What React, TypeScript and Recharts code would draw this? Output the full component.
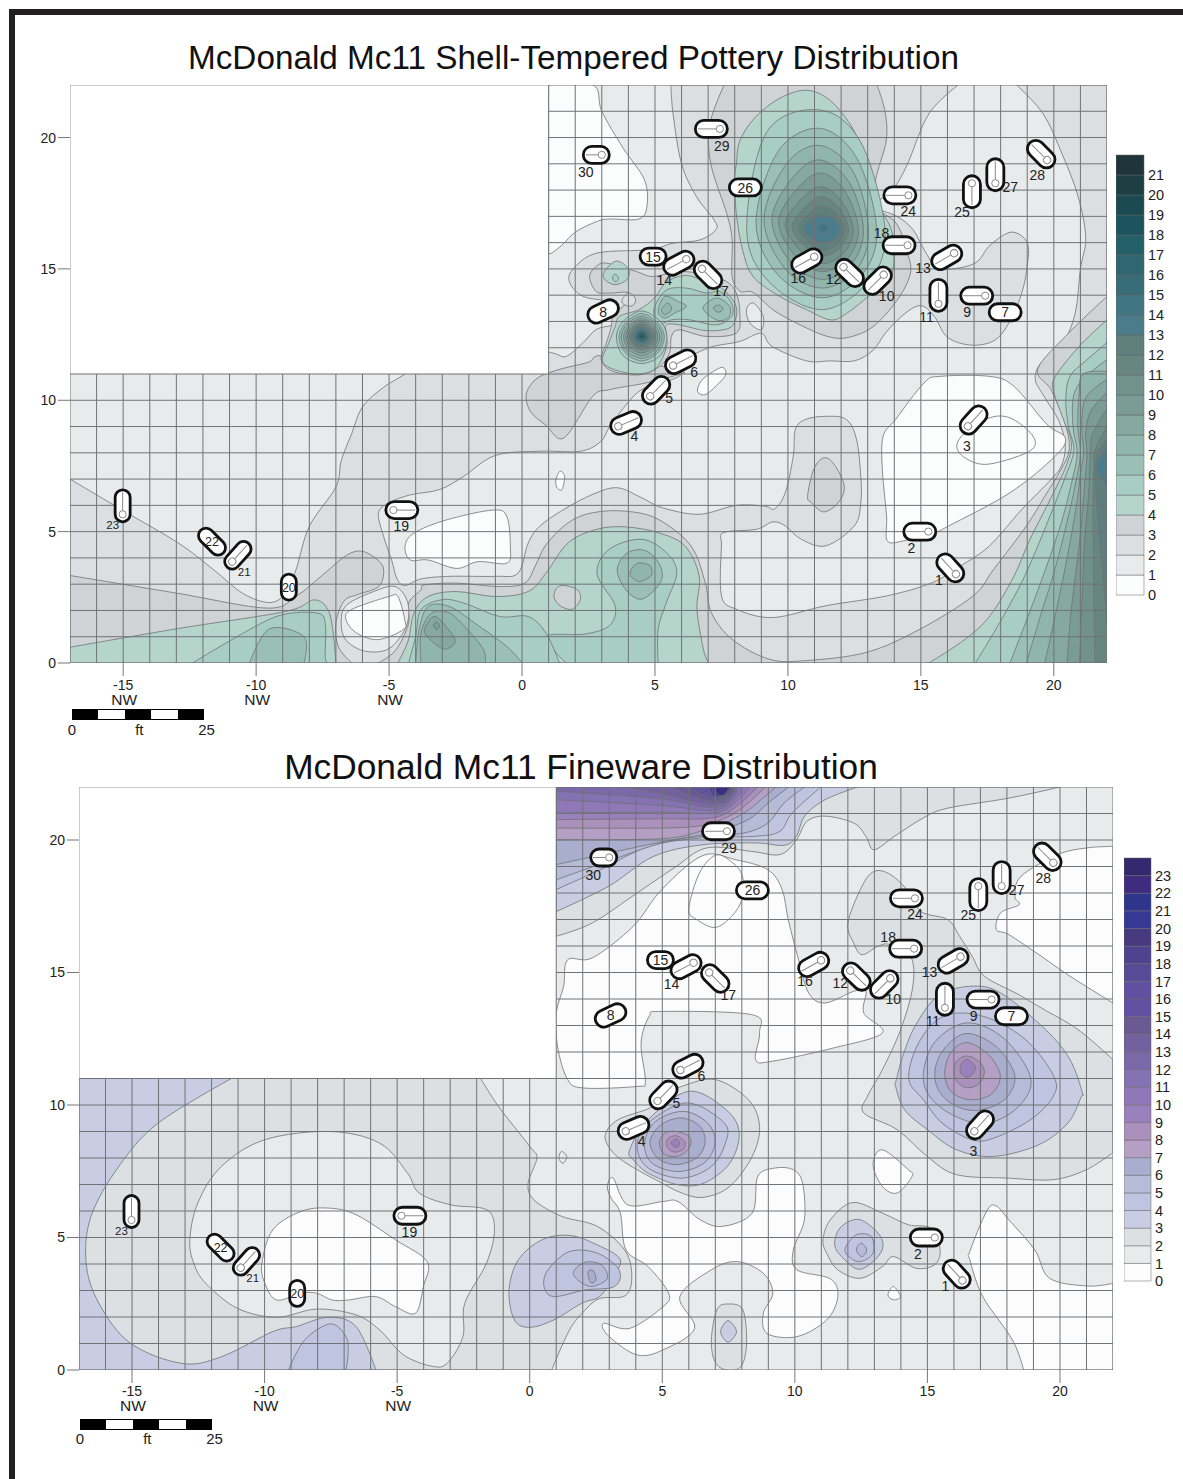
import React from 'react';
import { BarChart, Bar, Scatter, ScatterChart, XAxis, YAxis } from 'recharts';

type Pt = number[];
type Contour = [number, Pt[]];

const FONT = '"Liberation Sans", Arial, sans-serif';

const xTicks = [-15, -10, -5, 0, 5, 10, 15, 20];
const yTicks = [0, 5, 10, 15, 20];
const gridColumns = [-17, -16, -15, -14, -13, -12, -11, -10, -9, -8, -7, -6, -5, -4, -3, -2, -1, 0, 1, 2, 3, 4, 5, 6, 7, 8, 9, 10, 11, 12, 13, 14, 15, 16, 17, 18, 19, 20, 21, 22];
const gridRows = [0, 1, 2, 3, 4, 5, 6, 7, 8, 9, 10, 11, 12, 13, 14, 15, 16, 17, 18, 19, 20, 21, 22];

// colour of the band that starts at each level, lowest first
const shellColors = ['#fbfcfc', '#e8ebec', '#dcdfe2', '#cfd3d6', '#b5d5cb', '#a8cdc2', '#9ac0b6', '#90b5ab', '#85a8a0', '#7b9c95', '#71918b', '#678680', '#5f7f7c', '#4a7c8c', '#427584', '#386c78', '#2f6670', '#24606a', '#1c535e', '#1b4a52', '#1d3f44', '#1f3539'];
const finewareColors = ['#fcfcfc', '#e8ebec', '#dde0e2', '#c9cde4', '#bfc4e0', '#b6bbd8', '#a9aece', '#b59fc5', '#ab90bc', '#9a80bd', '#9078b8', '#8572b2', '#7b68a8', '#72609f', '#6b5a92', '#6250a0', '#5f51a0', '#574b98', '#4f4390', '#483a80', '#363a95', '#2e358a', '#3f2c80', '#34296f'];

// excavation units: id, point, direction of the tag in degrees
const unitLabels = ['1', '2', '3', '4', '5', '6', '7', '8', '9', '10', '11', '12', '13', '14', '15', '16', '17', '18', '19', '20', '21', '22', '23', '24', '25', '26', '27', '28', '29', '30'];
const unitX = [16.32, 15.28, 16.77, 3.62, 4.82, 5.68, 18.17, 3.05, 17.42, 13.6, 15.66, 12.09, 16.25, 6.18, 4.93, 10.99, 6.77, 14.5, -4.84, -8.77, -10.9, -11.66, -15.02, 14.53, 16.92, 8.4, 17.8, 19.75, 7.44, 3.0];
const unitY = [3.38, 5.0, 9.01, 9.01, 10.15, 11.32, 13.35, 13.38, 13.98, 14.78, 13.67, 15.07, 15.6, 15.37, 15.47, 15.46, 15.0, 15.9, 5.82, 2.89, 3.86, 4.62, 5.66, 17.8, 18.26, 18.1, 18.26, 19.14, 20.33, 19.34];
const unitAngle = [-132, 180, -48, -23, -46, -27, 0, -25, 180, 135, -90, 44, 150, 152, 0, 151, 45, 180, 0, 90, -48, 45, -90, 180, 90, 0, -90, -135, 180, 180];
const unitLabelDx = [-17, -17, -1, 16, 19, 21, 0, 0, -18, 3, -12, -10, -31, -22, 0, -16, 19, -26, 8, 0, 12, 0, -10, 0, -10, 0, 15, -10, 2, -16];
const unitLabelDy = [6, 16, 20, 10, 2, 6, 0, 0, 16, 21, 13, 12, 15, 21, 0, 21, 22, -12, 16, 0, 10, 0, 11, 16, 29, 0, 4, 15, 17, 17];
const centredUnits = ['7', '8', '15', '20', '22', '26'];
const smallUnits = ['20', '21', '22', '23'];

const shellContours: Contour[] = [
  [0, [[1, 22], [1, 22], [2.67, 22], [3, 21], [3.8, 19.6], [4.6, 18.4], [4.7, 17.4], [4.4, 16.9], [3.3, 16.9], [2.8, 16.8], [2, 16.4], [1.5, 15.9], [1.1, 15.6], [1, 15.6], [1, 15.6]]],
  [2, [[-17, 7], [-17, 7], [-15, 5.8], [-12.9, 4.55], [-11.6, 3.55], [-10.5, 2.65], [-9.5, 2.3], [-8.9, 2.65], [-8.5, 3.55], [-8, 5.2], [-7, 6.7], [-6.8, 7.7], [-6.4, 8.75], [-6, 9.75], [-5.2, 10.5], [-4.4, 11], [-3, 12], [0, 12], [1.16, 11.8], [1.66, 11.67], [2.3, 12.2], [2.8, 12.7], [3.5, 12.9], [3.67, 13.3], [3.17, 13.76], [2.3, 13.95], [1.8, 14.46], [1.9, 14.97], [2.8, 15.6], [4.8, 15.73], [5.68, 15.98], [6.68, 16.1], [7.3, 16.5], [7.2, 16.9], [6.56, 17.75], [6, 19], [5.68, 20.9], [5.6, 22], [5.6, 22], [16.4, 22], [16.4, 22], [15.3, 20.9], [14.5, 19], [14, 18.1], [13.3, 17.4], [14.1, 17], [14.7, 16.5], [15.2, 15.6], [15.7, 15], [17, 15.2], [17.6, 15.9], [18.4, 16.4], [19, 16], [19, 15.1], [18.8, 14.1], [18.4, 13.1], [17.8, 12.3], [16.9, 12.1], [16, 12.4], [15.5, 13.2], [15, 13.6], [14.4, 13.3], [13.7, 12.6], [13.2, 11.9], [12.5, 11.5], [11.6, 11.5], [10.7, 11.5], [9.4, 12.05], [9, 12.55], [8.19, 12.24], [7.19, 12.05], [6.56, 11.8], [5.93, 11.55], [6, 11], [5.3, 10.66], [4.35, 10.3], [3.35, 9.07], [2.97, 8.44], [2.2, 8.06], [0.66, 8.06], [-1, 7.9], [-2.2, 7.1], [-3.1, 6.6], [-4.2, 6.4], [-5, 6.1], [-5.4, 5.7], [-5.2, 4.8], [-4.9, 3.9], [-4.7, 3.2], [-4.4, 2.95], [-3.8, 3.2], [-2.7, 3.3], [-1, 3.3], [-0.15, 3.42], [0.23, 4.56], [0.66, 5.2], [1.58, 5.85], [2.66, 6.42], [3.58, 6.67], [4.5, 6.29], [5.28, 5.91], [6.66, 5.66], [8.05, 6], [9.12, 5.97], [9.5, 5.87], [9.9, 6.48], [10.2, 7.87], [10.28, 8.89], [10.66, 9.27], [11.43, 9.39], [12.2, 9.27], [12.58, 8.51], [12.74, 7.11], [12.74, 6.1], [12.5, 5.22], [11.43, 4.46], [10.5, 4.71], [9.9, 5.22], [9.43, 5.37], [8.82, 5.09], [7.58, 4.96], [7.5, 4.46], [7.5, 2.56], [8.05, 2.05], [9.43, 1.73], [11.43, 2.18], [13.74, 2.56], [15.43, 3.06], [16.5, 3.7], [17.58, 4.46], [18.8, 5.85], [19.9, 6.99], [20.28, 7.5], [20.43, 8.25], [20.2, 9.2], [19.6, 10.2], [19.3, 10.8], [19.5, 11.4], [20.3, 12.1], [20.8, 13.3], [21, 15], [21.2, 16.2], [20.9, 17.8], [20.3, 19.4], [19.6, 20.9], [18.6, 22], [18.6, 22], [22, 22], [22, 22], [22, 0], [22, 0], [-17, 0], [-17, 0]]],
  [0, [[-4.4, 4.43], [-4.07, 4.94], [-2.86, 5.44], [-1.1, 5.82], [-0.57, 5.57], [-0.44, 4.43], [-0.57, 3.8], [-1.65, 3.86], [-2.46, 3.6], [-3.53, 3.92], [-4.2, 3.92]]],
  [0, [[13.58, 8.63], [14.05, 9.27], [15.12, 10.66], [15.74, 10.91], [17.58, 10.91], [18.5, 10.53], [19.74, 9.08], [20.43, 8.57], [20.05, 7.87], [18.35, 6.48], [16.05, 5.22], [15.5, 4.96], [14.35, 4.65], [13.74, 4.65], [13.71, 5.6], [13.55, 7.37]]],
  [0, [[16.35, 8.25], [16.66, 8.76], [17.58, 9.33], [18.35, 9.33], [19.12, 8.76], [19.28, 8.25], [18.66, 7.87], [17.43, 7.56], [16.66, 7.81]]],
  [0, [[6.6, 10.35], [6.75, 10.75], [7.2, 11.1], [7.55, 11.25], [7.65, 10.95], [7.2, 10.45], [6.85, 10.2]]],
  [0, [[1.28, 7], [1.43, 7.3], [1.6, 7.1], [1.5, 6.6], [1.3, 6.7]]],
  // level 3 pieces
  [3, [[-17, 3.33], [-17, 3.33], [-13, 2.66], [-9.6, 2.09], [-8.5, 2.54], [-7.5, 3.35], [-6.6, 4.1], [-6, 4.25], [-5.4, 3.9], [-5.2, 3.5], [-5.4, 2.9], [-6.2, 2.6], [-6.7, 2.35], [-7, 1.5], [-6.9, 0.6], [-6.4, 0], [-6.4, 0], [-17, 0], [-17, 0]]],
  [3, [[-5.41, 0], [-5.41, 0], [-4.74, 0.5], [-4.27, 1.5], [-4.27, 2.28], [-3.8, 2.78], [-3.67, 2.97], [-2.46, 3.04], [-0.84, 2.91], [0.1, 3.04], [0.5, 3.7], [0.9, 4.5], [1.74, 5.34], [2.66, 5.72], [3.89, 5.78], [5.12, 5.47], [6.35, 4.46], [6.89, 3.06], [7.12, 1.92], [7.89, 0.91], [9.28, 0.15], [10.66, 0.09], [12.97, 0.41], [14.97, 1.29], [16.97, 2.56], [17.74, 3.57], [18.97, 5.22], [19.74, 6.48], [20.2, 7.24], [20.58, 8.13], [20.4, 9.2], [19.9, 10.4], [19.4, 11.2], [20.6, 12.6], [22, 13.95], [22, 13.95], [22, 0], [22, 0]]],
  [3, [[0.16, 10], [0.37, 9.5], [0.9, 9.05], [1.58, 8.57], [2.66, 10.15], [3.28, 10.4], [4.66, 10.66], [5.97, 11], [6, 11.1], [5, 11.35], [3, 11.7], [2.5, 11.45], [1.5, 11.2], [0.66, 10.9], [0.23, 10.44]]],
  [3, [[2.54, 14.71], [2.79, 15.09], [3.17, 15.22], [4.3, 14.9], [4.93, 14.71], [5.93, 14.9], [6.93, 14.78], [7.69, 14.52], [8.06, 14.08], [8.19, 13.32], [8.06, 12.56], [6.93, 12.43], [5.93, 12.68], [5.62, 12.43], [5.55, 11.8], [5.18, 11.29], [4.43, 10.97], [3.42, 11.1], [2.98, 11.54], [3.17, 12.18], [3.36, 12.81], [3.42, 13.32], [3.8, 13.57], [4.05, 14.08], [3.3, 14.08], [2.79, 14.14]]],
  [3, [[7.6, 22], [7.6, 22], [7.06, 20.5], [7.1, 19], [7.7, 17.1], [7.9, 16.1], [7.9, 14.7], [8.2, 14.15], [8.7, 14.1], [9.5, 13.4], [10.7, 12.75], [11.6, 12.4], [12.3, 12.4], [13.2, 12.8], [14.1, 13.8], [14.6, 14.8], [14.5, 15.6], [14.1, 16.7], [13.3, 17.4], [13.3, 18.4], [13.7, 19.9], [13.65, 21], [13.35, 22], [13.35, 22]]],
  [3, [[10.74, 6.35], [10.97, 7.37], [11.35, 7.81], [11.74, 7.56], [12.12, 6.73], [11.89, 6.1], [11.35, 5.75], [10.89, 6.1]]],
  // lighter pockets on top of level 2 and 3
  [2, [[3.77, 13.84], [4.02, 14.09], [4.27, 13.84], [4.14, 13.59], [3.83, 13.65]]],
  [1, [[8.44, 13.45], [8.7, 13.7], [9.07, 13.2], [9, 12.68], [8.57, 12.94]]],
  [1, [[-6.8, 1.5], [-6.6, 2.2], [-5.5, 2.75], [-4.75, 2.9], [-4.3, 2.3], [-4.35, 1.4], [-5, 0.55], [-5.9, 0.45], [-6.6, 0.85]]],
  [0, [[-6.62, 1.65], [-6.42, 2.03], [-5.01, 2.53], [-4.67, 2.53], [-4.41, 1.65], [-4.47, 1.27], [-5.41, 0.89], [-6.22, 1.14]]],
  // bottom left wedge and hump
  [4, [[-17, 0.6], [-17, 0.6], [-13, 1.3], [-8.9, 1.96], [-7.83, 2.4], [-7.3, 2.03], [-7.1, 1.14], [-7, 0], [-7, 0], [-17, 0], [-17, 0]]],
  [5, [[-12.4, 0], [-12.4, 0], [-10.25, 1.27], [-9, 1.84], [-7.7, 1.9], [-7.4, 1.5], [-7.4, 0.25], [-7.3, 0], [-7.3, 0]]],
  [6, [[-10.25, 0], [-10.25, 0], [-9.5, 1.3], [-8.2, 1], [-8.2, 0], [-8.2, 0]]],
  [4, [[-4.67, 0], [-4.67, 0], [-4.27, 0.88], [-4.07, 1.9], [-3.53, 2.53], [-2.46, 2.72], [-1, 2.53], [0.23, 2.72], [0.9, 3.42], [1.74, 4.58], [2.82, 5.09], [3.89, 5.18], [5.12, 4.96], [6.12, 4.46], [6.66, 3.32], [6.58, 2.05], [6.82, 0.53], [7.02, 0], [7.02, 0]]],
  [3, [[1.2, 2.56], [1.43, 2.94], [2.05, 2.81], [2.2, 2.43], [1.89, 2.05], [1.43, 2.18]]],
  [5, [[3.28, 4.33], [4.5, 4.71], [5.43, 4.2], [5.82, 3.44], [5.43, 2.3], [5.12, 1.29], [5.12, 0], [5.12, 0], [1.66, 0], [1.66, 0], [0.9, 1], [2.35, 1.1], [3.28, 1.42], [3.5, 2.18], [2.82, 3.4]]],
  [6, [[3.58, 3.57], [3.97, 4.2], [4.66, 4.27], [5.2, 3.7], [5.2, 3.06], [4.5, 2.43], [3.89, 2.81]]],
  [7, [[4.08, 3.5], [4.35, 3.8], [4.82, 3.7], [4.85, 3.32], [4.43, 3.1], [4.12, 3.27]]],
  [5, [[-4.27, 0], [-4.27, 0], [-4, 1.01], [-3.8, 2.03], [-3, 2.41], [-2.19, 2.28], [-0.84, 1.77], [0.23, 1.77], [0.9, 1.14], [1.41, 0], [1.41, 0]]],
  [6, [[-4, 0], [-4, 0], [-3.87, 1.27], [-3.53, 2.15], [-2.73, 2.15], [-1.78, 1.52], [-0.57, 0.63], [0, 0], [0, 0]]],
  [7, [[-3.8, 0], [-3.8, 0], [-3.8, 1.14], [-3.4, 1.9], [-2.73, 1.9], [-2.05, 1.27], [-1.45, 0.51], [-1.38, 0], [-1.38, 0]]],
  [8, [[-3.67, 1.27], [-3.27, 1.77], [-2.66, 1.14], [-2.53, 0.76], [-2.93, 0.53], [-3.46, 0.89]]],
  [9, [[-3.33, 1.46], [-3.2, 1.56], [-3.1, 1.39], [-3.23, 1.27]]],
  // right edge fan
  [4, [[15.3, 0], [15.3, 0], [16.66, 0.9], [17.6, 1.8], [18.5, 3.3], [19.1, 4.7], [20, 6.5], [20.5, 7.6], [20.66, 8.4], [20.35, 9.3], [20, 10.3], [20.05, 10.9], [21, 12.1], [22, 13.06], [22, 13.06], [22, 0], [22, 0]]],
  [5, [[17.05, 0], [17.05, 0], [18, 1.6], [18.9, 3.3], [19.7, 5.2], [20.4, 7], [20.75, 8.1], [20.55, 9], [20.45, 10], [20.6, 10.9], [21.2, 11.5], [22, 12.2], [22, 12.2], [22, 0], [22, 0]]],
  [6, [[18.35, 0], [18.35, 0], [19, 1.7], [19.7, 3.6], [20.3, 5.4], [20.7, 7], [20.88, 8], [20.72, 9], [20.75, 10.2], [21.2, 10.9], [22, 11.55], [22, 11.55], [22, 0], [22, 0]]],
  [7, [[18.97, 0], [18.97, 0], [19.5, 1.8], [20.05, 3.6], [20.55, 5.6], [20.85, 7], [21, 8], [20.9, 9], [20.95, 10.2], [21.1, 11], [22, 11.1], [22, 11.1], [22, 0], [22, 0]]],
  [8, [[19.66, 0], [19.66, 0], [20.05, 1.8], [20.5, 4], [20.85, 6], [21, 7.2], [21.12, 8], [21.05, 9], [21.2, 10.1], [22, 10.8], [22, 10.8], [22, 0], [22, 0]]],
  [9, [[20.5, 0], [20.5, 0], [20.65, 2], [20.9, 4], [21.1, 6], [21.2, 7.3], [21.25, 8], [21.2, 8.8], [21.4, 9.6], [22, 10.3], [22, 10.3], [22, 0], [22, 0]]],
  [10, [[20.97, 0], [20.97, 0], [21.05, 2], [21.15, 4.5], [21.3, 6.3], [21.35, 7.4], [21.38, 8], [21.45, 8.7], [22, 9.7], [22, 9.7], [22, 0], [22, 0]]],
  [11, [[21.55, 0], [21.55, 0], [21.5, 3], [21.48, 6], [21.5, 7.4], [21.55, 8.1], [22, 9], [22, 9], [22, 0], [22, 0]]],
  [12, [[22, 1.5], [22, 1.5], [21.7, 5], [21.55, 7.2], [21.65, 8], [22, 8.5], [22, 8.5]]],
  [13, [[22, 6.7], [22, 6.7], [21.6, 7.45], [22, 8.15], [22, 8.15]]],
  // big hump around 11.3, 16.5
  [4, [[8.06, 19], [8.2, 19.9], [8.8, 20.8], [9.7, 21.5], [10.7, 21.8], [11.6, 21.4], [12.46, 20.3], [12.97, 18.9], [13.2, 17.75], [13.85, 16.6], [14, 15.6], [13.85, 14.7], [13.2, 14.1], [12.2, 13.3], [11.6, 13.06], [10.7, 13.45], [9.7, 13.95], [8.7, 14.7], [8.3, 15.7], [8.06, 17.1], [8, 18.4]]],
  [5, [[11.2, 21.05], [12.75, 19.8], [13.65, 16.5], [13.1, 14.6], [11.3, 13.45], [9.3, 14.5], [8.45, 16.5], [9.2, 20.2]]],
  [6, [[11.2, 20.35], [12.6, 19.2], [13.34, 16.5], [12.8, 14.8], [11.3, 13.9], [9.6, 14.8], [8.8, 16.8], [9.65, 19.5]]],
  [7, [[11.2, 19.7], [12.45, 18.7], [13.03, 16.5], [12.6, 15], [11.3, 14.27], [9.9, 15], [9.1, 16.9], [9.95, 19]]],
  [8, [[11.2, 19.15], [12.3, 18.3], [12.84, 16.5], [12.4, 15.2], [11.3, 14.6], [10.1, 15.25], [9.4, 16.9], [10.2, 18.5]]],
  [9, [[11.25, 18.65], [12.15, 17.95], [12.65, 16.5], [12.25, 15.4], [11.3, 14.9], [10.3, 15.45], [9.65, 16.8], [10.35, 18.05]]],
  [10, [[11.25, 18.13], [12, 17.6], [12.46, 16.5], [12.1, 15.6], [11.3, 15.2], [10.5, 15.65], [9.9, 16.7], [10.5, 17.65]]],
  [11, [[11.25, 17.75], [11.9, 17.35], [12.28, 16.5], [11.95, 15.8], [11.3, 15.5], [10.65, 15.85], [10.15, 16.6], [10.65, 17.35]]],
  [12, [[11.3, 17.4], [11.8, 17.1], [12.15, 16.5], [11.85, 15.95], [11.3, 15.7], [10.8, 16], [10.4, 16.55], [10.8, 17.1]]],
  [13, [[11.3, 17.05], [11.75, 16.9], [11.96, 16.5], [11.75, 16.15], [11.3, 16], [10.95, 16.15], [10.6, 16.5], [10.9, 16.9]]],
  [14, [[11.33, 16.72], [11.5, 16.55], [11.33, 16.38], [11.16, 16.55]]],
  // centre cluster
  [4, [[3.11, 14.6], [3.1, 14.9], [3.55, 15.3], [4, 15], [3.95, 14.6], [3.5, 14.4]]],
  [5, [[3.4, 14.65], [3.5, 14.8], [3.63, 14.65], [3.53, 14.5]]],
  [4, [[4.99, 13.9], [5.43, 14.5], [6.18, 14.75], [6.93, 14.5], [7.5, 14.27], [8, 13.7], [8.06, 13.2], [7.8, 12.75], [6.93, 12.65], [5.93, 12.87], [5.43, 12.87], [5.43, 12.5], [5.43, 12], [5.05, 11.24], [4.4, 11], [3.51, 11.15], [3.02, 11.5], [3.25, 12.15], [3.5, 12.8], [3.67, 13.2], [4.4, 13.45]]],
  [5, [[4.99, 13.57], [5.43, 14.2], [6.18, 14.27], [6.93, 14.08], [7.44, 14.14], [7.88, 13.7], [7.88, 13.19], [7.31, 12.87], [6.31, 13.06], [5.62, 13.06], [5.18, 12.87], [4.99, 13.19]]],
  [6, [[5.12, 13.38], [5.37, 13.95], [5.87, 13.76], [6.18, 13.57], [5.74, 13.32], [5.37, 13.13]]],
  [6, [[6.81, 13.51], [7.31, 13.89], [7.81, 13.57], [7.75, 13.13], [7.31, 13.06]]],
  [7, [[5.24, 13.45], [5.49, 13.7], [5.62, 13.45], [5.37, 13.26]]],
  [7, [[7.19, 13.51], [7.41, 13.63], [7.56, 13.47], [7.38, 13.35]]],
  [5, [[4.5, 13.4], [5.2, 13], [5.45, 12.4], [5.2, 11.7], [4.5, 11.4], [3.8, 11.7], [3.55, 12.4], [3.8, 13]]],
  [6, [[4.5, 13.3], [5.1, 12.95], [5.35, 12.4], [5.1, 11.8], [4.5, 11.5], [3.9, 11.8], [3.65, 12.4], [3.9, 12.95]]],
  [7, [[4.5, 13.2], [5.05, 12.9], [5.27, 12.4], [5.05, 11.85], [4.5, 11.6], [3.95, 11.85], [3.73, 12.4], [3.95, 12.9]]],
  [8, [[4.5, 13.12], [4.98, 12.85], [5.18, 12.42], [4.98, 11.93], [4.5, 11.7], [4.02, 11.93], [3.82, 12.42], [4.02, 12.85]]],
  [9, [[4.5, 13.05], [4.93, 12.8], [5.1, 12.42], [4.93, 12], [4.5, 11.8], [4.07, 12], [3.9, 12.42], [4.07, 12.8]]],
  [10, [[4.5, 12.97], [4.88, 12.75], [5.02, 12.42], [4.88, 12.07], [4.5, 11.9], [4.12, 12.07], [3.98, 12.42], [4.12, 12.75]]],
  [11, [[4.5, 12.9], [4.82, 12.72], [4.95, 12.42], [4.82, 12.13], [4.5, 11.98], [4.18, 12.13], [4.05, 12.42], [4.18, 12.72]]],
  [12, [[4.5, 12.83], [4.77, 12.68], [4.88, 12.43], [4.77, 12.18], [4.5, 12.05], [4.23, 12.18], [4.12, 12.43], [4.23, 12.68]]],
  [13, [[4.5, 12.76], [4.72, 12.64], [4.82, 12.43], [4.72, 12.22], [4.5, 12.12], [4.28, 12.22], [4.18, 12.43], [4.28, 12.64]]],
  [15, [[4.5, 12.68], [4.67, 12.58], [4.75, 12.43], [4.67, 12.28], [4.5, 12.2], [4.33, 12.28], [4.25, 12.43], [4.33, 12.58]]],
  [17, [[4.5, 12.6], [4.62, 12.53], [4.67, 12.43], [4.62, 12.33], [4.5, 12.28], [4.38, 12.33], [4.33, 12.43], [4.38, 12.53]]],
  [19, [[4.5, 12.52], [4.57, 12.43], [4.5, 12.35], [4.43, 12.43]]],
];

const finewareContours: Contour[] = [
  // white pockets on the level 1 base
  [0, [[1.43, 15.48], [2.36, 15.55], [3.9, 16.74], [4.98, 18.13], [6.52, 19.41], [7.75, 19.26], [8.98, 18.88], [9.52, 18.13], [9.75, 17], [10.14, 15.48], [10.52, 14.23], [11.14, 13.85], [12.22, 14.29], [12.68, 14.29], [12.6, 13.47], [13.3, 12.72], [11.45, 12.15], [9.14, 11.65], [8.52, 11.71], [8.67, 12.72], [8.37, 13.41], [4.98, 13.53], [4.51, 13.35], [4.2, 12.34], [4.36, 10.89], [4.05, 10.7], [2.05, 10.64], [1.43, 10.96], [1.05, 12.21], [1, 13.47], [1.28, 14.48]]],
  [0, [[3.15, 7.24], [3.7, 6.23], [5.03, 6.36], [5.59, 6.36], [6.43, 5.67], [7.27, 5.42], [8.39, 5.92], [8.6, 7.3], [9.24, 7.62], [9.94, 7.56], [10.29, 7.05], [10.36, 5.67], [9.94, 4.53], [10.08, 3.78], [11.34, 3.44], [11.62, 2.77], [11.2, 1.89], [10.08, 1.26], [8.95, 1.38], [8.81, 2.14], [9.17, 2.9], [8.81, 3.65], [7.83, 4.09], [6.85, 3.78], [5.66, 2.77], [6.22, 1.57], [5.03, 0.76], [4.05, 0.57], [3, 1.26], [2.78, 1.76], [3.77, 1.57], [5.03, 2.39], [5.24, 2.9], [4.47, 3.9], [3.63, 4.53], [3.42, 5.92], [3.07, 6.49], [2.93, 6.93]]],
  [0, [[12.95, 7.75], [13.3, 8.31], [14.28, 7.56], [14.42, 7.31], [13.86, 6.68], [13.3, 6.93]]],
  [0, [[13.51, 2.83], [13.72, 3.15], [13.98, 2.77], [13.72, 2.65]]],
  [0, [[16.6, 4.47], [17.23, 5.98], [17.58, 6.2], [18.07, 5.67], [19.05, 4.53], [19.61, 3.46], [21.02, 3.17], [22, 3.27], [22, 3.27], [22, 0], [22, 0], [18.63, 0], [18.63, 0], [18.21, 1.13], [17.09, 2.77], [16.6, 4.16]]],
  [0, [[22, 19.76], [22, 19.76], [21, 19.7], [19.92, 19.45], [18.53, 18.63], [18.3, 17.87], [18.46, 17.56], [17.76, 17.25], [17.6, 16.62], [18.07, 16.43], [19.3, 15.61], [20.38, 14.86], [22, 13.85], [22, 13.85]]],
  // level 2
  [2, [[-17, 11], [-17, 11], [-1.85, 11], [-1.85, 11], [-1.18, 9.95], [0, 8.44], [0.27, 8], [-0.06, 7.05], [0.16, 6.42], [1.2, 5.8], [2.55, 5.42], [3.6, 4.5], [3.85, 3.5], [3.6, 2.8], [2.64, 2.7], [2.1, 2.27], [1.5, 1.51], [0.83, 0], [0.83, 0], [-17, 0], [-17, 0]]],
  [1, [[-12.82, 4.91], [-12.52, 6.3], [-11.63, 7.68], [-9.99, 8.69], [-7.52, 9], [-5.66, 8.56], [-4.61, 7.43], [-4.16, 6.67], [-2.97, 6.23], [-1.63, 6.05], [-1.33, 5.29], [-1.63, 4.03], [-2.45, 2.52], [-2.52, 1.26], [-3.12, 0.25], [-3.72, 0.15], [-4.76, 0.57], [-5.66, 1.51], [-6.55, 2.08], [-8.04, 2.3], [-9.54, 1.99], [-11.03, 2.33], [-12.22, 3.27], [-12.67, 4.03]]],
  [0, [[-10.1, 4.03], [-9.69, 5.29], [-8.64, 5.98], [-7.6, 6.11], [-6.55, 5.86], [-5.06, 4.91], [-3.87, 4.09], [-4.01, 3.15], [-4.31, 2.14], [-5.06, 2.39], [-5.81, 2.77], [-6.85, 2.64], [-7.45, 2.64], [-8.04, 2.9], [-8.64, 2.9], [-9.54, 2.64], [-9.99, 3.27]]],
  [1, [[1.1, 8], [1.2, 8.25], [1.4, 8.05], [1.25, 7.8]]],
  [2, [[1, 16.37], [1, 16.37], [2.36, 16.87], [4.05, 18], [5.44, 18.94], [6.67, 19.7], [8.37, 19.57], [9.44, 19.45], [10.06, 20], [10.45, 20.7], [11.14, 20.9], [12.22, 20.64], [12.68, 20.14], [12.99, 19.63], [13.76, 20.14], [14.84, 20.83], [15.76, 21.2], [18.07, 21.58], [20, 22], [20, 22], [1, 22], [1, 22]]],
  [0, [[6.0, 17.4], [6.4, 18.75], [7.02, 19.43], [7.64, 19.15], [8.02, 18.65], [8.02, 17.8], [7.64, 17.15], [7.0, 16.7], [6.3, 17]]],
  [2, [[2.85, 8.88], [3.34, 9.45], [4.54, 9.89], [5.03, 10.33], [5.73, 10.7], [7, 10.96], [8.25, 10.2], [8.67, 9.19], [8.39, 8.06], [7.55, 6.93], [6.57, 6.52], [5.73, 6.68], [4.75, 7.18], [3.63, 7.81], [3.06, 8.31]]],
  [2, [[11.06, 4.91], [11.34, 5.67], [12.18, 6.32], [13.3, 5.92], [14.28, 5.48], [15.13, 5.35], [15.48, 4.53], [15.27, 3.97], [14.57, 3.84], [13.72, 4.28], [13.3, 3.9], [12.46, 3.46], [11.62, 3.78], [11.2, 4.41]]],
  [2, [[6.85, 1.13], [7.06, 2.27], [7.48, 2.49], [8.04, 2.27], [8.18, 1.01], [7.97, 0.13], [7.41, 0], [6.99, 0.31]]],
  [2, [[12, 16.87], [12.53, 18.25], [13, 18.82], [13.6, 18.7], [14.22, 18.13], [14.76, 17.3], [15.76, 17], [16.22, 16.36], [16.69, 15.61], [17.15, 14.86], [18.38, 14.2], [19.3, 13.66], [20.69, 12.84], [22, 11.71], [22, 11.71], [22, 8.2], [22, 8.2], [21, 7.56], [19.75, 7.18], [18.07, 7.24], [16.1, 7.37], [14.99, 8.06], [13.86, 9.07], [12.6, 9.7], [12.74, 10.33], [13.3, 11.33], [13.99, 12.84], [14.45, 14.48], [14.37, 15.6], [13.6, 16.05], [13.14, 15.99], [12.53, 15.67], [12.22, 16.11]]],
  // level 3 and up, left side
  [3, [[-17, 11], [-17, 11], [-11.25, 11], [-11.25, 11], [-14.01, 9.32], [-15.5, 7.68], [-16.55, 5.79], [-16.73, 4.03], [-16.25, 2.52], [-15.06, 1.01], [-13.12, 0.25], [-11.63, 0.5], [-9.69, 1.45], [-8.8, 1.64], [-7.6, 1.99], [-6.55, 1.64], [-5.8, 0], [-5.8, 0], [-17, 0], [-17, 0]]],
  [4, [[-9.1, 0], [-9.1, 0], [-8.49, 1.13], [-7.52, 1.74], [-6.93, 1.26], [-6.85, 0.63], [-6.93, 0], [-6.93, 0]]],
  [3, [[-0.78, 3.02], [-0.43, 4.16], [0.46, 4.91], [1.5, 5.08], [2.55, 4.72], [3.42, 4.16], [3.06, 3.4], [2.64, 2.77], [1.96, 2.52], [0.91, 1.89], [0, 1.61], [-0.58, 1.89]]],
  [4, [[0.54, 3.15], [0.69, 3.78], [1.5, 4.47], [2.55, 4.41], [3.37, 3.78], [3.2, 3.15], [2.1, 3.02], [0.91, 2.77]]],
  [5, [[1.66, 3.72], [2.1, 4.07], [2.7, 3.97], [2.93, 3.46], [2.33, 3.15], [1.81, 3.4]]],
  [6, [[2.2, 3.7], [2.4, 3.75], [2.5, 3.4], [2.3, 3.3]]],
  // hump around 5.5, 8.5
  [3, [[3.77, 8.31], [4.47, 9.45], [6.01, 10.52], [7.41, 9.82], [7.9, 8.94], [7.55, 7.81], [6.57, 7.05], [5.59, 6.99], [4.47, 7.43], [3.91, 7.93]]],
  [4, [[5.94, 10.08], [7.34, 9.32], [7.38, 8.56], [6.85, 7.68], [5.73, 7.24], [4.47, 7.62], [4.05, 8.44], [4.47, 9.32]]],
  [5, [[5.8, 9.76], [6.71, 9.32], [6.99, 8.56], [6.57, 7.81], [5.59, 7.49], [4.61, 7.81], [4.33, 8.56], [4.75, 9.38]]],
  [6, [[5.73, 9.51], [6.43, 9.19], [6.61, 8.56], [6.29, 8], [5.52, 7.75], [4.82, 8], [4.54, 8.63], [4.96, 9.26]]],
  [7, [[5.52, 9], [6.01, 8.82], [6.05, 8.44], [5.66, 8.09], [5.1, 8.12], [4.89, 8.56], [5.1, 8.94]]],
  [8, [[5.52, 8.84], [5.84, 8.63], [5.8, 8.34], [5.45, 8.22], [5.17, 8.44], [5.21, 8.72]]],
  [9, [[5.52, 8.72], [5.66, 8.56], [5.52, 8.4], [5.34, 8.56]]],
  // small humps
  [3, [[11.5, 4.79], [11.76, 5.42], [12.46, 5.67], [13.23, 5.04], [13.23, 4.41], [12.46, 3.8], [11.76, 4.28]]],
  [4, [[11.9, 4.6], [12.32, 5.1], [12.88, 5.04], [12.95, 4.41], [12.46, 4.09], [12.04, 4.28]]],
  [5, [[12.32, 4.53], [12.5, 4.79], [12.71, 4.53], [12.53, 4.28]]],
  [3, [[7.2, 1.45], [7.48, 1.86], [7.8, 1.45], [7.48, 1.05]]],
  // hump around 16.5, 11.5
  [3, [[13.83, 10.96], [14.07, 11.84], [14.53, 12.97], [15.38, 14.1], [16.6, 14.48], [17.76, 14.23], [19.46, 12.84], [20.38, 11.71], [20.85, 10.45], [20.8, 10.3], [20.3, 9.32], [19.2, 8.5], [17.5, 8.06], [16.1, 8.31], [15, 9.07], [14.14, 9.82], [13.8, 10.7]]],
  [4, [[14.3, 10.96], [14.6, 12.21], [15.38, 13.22], [16.38, 13.47], [17.6, 13.16], [18.84, 12.34], [19.77, 11.08], [19.75, 10.33], [18.9, 9.45], [17.5, 8.75], [16.67, 8.69], [15.55, 9.32], [14.85, 10.2]]],
  [5, [[16.5, 13.1], [17.9, 12.5], [18.9, 11], [18.4, 9.9], [17.2, 9.3], [16, 9.6], [15.1, 10.3], [14.85, 11.2], [15.3, 12.4]]],
  [6, [[16.5, 12.7], [17.6, 12.2], [18.3, 11.1], [17.9, 10.2], [16.9, 9.8], [16, 10], [15.4, 10.6], [15.3, 11.4], [15.7, 12.2]]],
  [7, [[16.5, 12.35], [17.3, 11.9], [17.75, 11.1], [17.4, 10.4], [16.6, 10.2], [15.9, 10.5], [15.65, 11.2], [15.9, 12]]],
  [8, [[16.5, 11.85], [16.95, 11.65], [17.15, 11.25], [16.95, 10.8], [16.5, 10.65], [16.1, 10.9], [16, 11.35], [16.15, 11.7]]],
  [9, [[16.5, 11.72], [16.8, 11.45], [16.72, 11.18], [16.5, 11.05], [16.25, 11.22], [16.28, 11.55]]],
  // fan in the top left corner
  [3, [[1, 17.3], [1, 17.3], [2.97, 18.25], [4.67, 19.38], [6.52, 19.82], [8.52, 19.89], [9.6, 19.8], [10.06, 20.14], [10.37, 20.9], [11.14, 21.52], [12.37, 22], [12.37, 22], [1, 22], [1, 22]]],
  [4, [[1, 18.13], [1, 18.13], [2.66, 18.88], [4.51, 19.76], [6.52, 20.08], [8.52, 20.14], [9.44, 20.33], [9.9, 21.02], [10.98, 22], [10.98, 22], [1, 22], [1, 22]]],
  [5, [[1, 18.5], [1, 18.5], [2.97, 19.2], [4.98, 19.89], [6.52, 20.14], [8.06, 20.26], [8.98, 20.64], [9.6, 21.4], [10.37, 22], [10.37, 22], [1, 22], [1, 22]]],
  [6, [[1, 19.07], [1, 19.07], [4.98, 19.93], [6.52, 20.2], [7.3, 20.4], [8.3, 20.8], [9, 21.4], [9.77, 22], [9.77, 22], [1, 22], [1, 22]]],
  [7, [[1, 20.01], [1, 20.01], [4.98, 20.05], [6.52, 20.35], [7.3, 20.6], [8.2, 21.1], [8.7, 21.5], [9.3, 22], [9.3, 22], [1, 22], [1, 22]]],
  [8, [[1, 20.45], [1, 20.45], [4.98, 20.45], [6.52, 20.55], [7.3, 20.8], [8, 21.2], [8.9, 22], [8.9, 22], [1, 22], [1, 22]]],
  [9, [[1, 20.77], [1, 20.77], [4.98, 20.8], [6.52, 20.8], [7.3, 20.95], [7.9, 21.35], [8.6, 22], [8.6, 22], [1, 22], [1, 22]]],
  [10, [[1, 21.02], [1, 21.02], [4.98, 21.05], [6.52, 21], [7.3, 21.1], [7.8, 21.45], [8.3, 22], [8.3, 22], [1, 22], [1, 22]]],
  [11, [[1, 21.52], [1, 21.52], [4.98, 21.3], [6.52, 21.12], [7.3, 21.2], [7.75, 21.55], [8.05, 22], [8.05, 22], [1, 22], [1, 22]]],
  [12, [[1, 21.84], [1, 21.84], [4.98, 21.55], [6.52, 21.25], [7.3, 21.3], [7.7, 21.65], [7.85, 22], [7.85, 22], [1, 22], [1, 22]]],
  [13, [[3.5, 22], [3.5, 22], [4.98, 21.75], [6.52, 21.38], [7.3, 21.4], [7.65, 21.7], [7.75, 22], [7.75, 22]]],
  [14, [[5.3, 22], [5.3, 22], [6.3, 21.6], [6.8, 21.47], [7.3, 21.5], [7.6, 21.75], [7.7, 22], [7.7, 22]]],
  [15, [[6, 22], [6, 22], [6.5, 21.7], [6.95, 21.52], [7.3, 21.56], [7.6, 21.8], [7.68, 22], [7.68, 22]]],
  [16, [[6.4, 22], [6.4, 22], [6.8, 21.65], [7.3, 21.6], [7.58, 21.85], [7.65, 22], [7.65, 22]]],
  [18, [[6.7, 22], [6.7, 22], [6.95, 21.65], [7.3, 21.63], [7.56, 21.9], [7.62, 22], [7.62, 22]]],
  [20, [[6.85, 22], [6.85, 22], [7.05, 21.68], [7.3, 21.66], [7.54, 21.9], [7.6, 22], [7.6, 22]]],
  [22, [[6.95, 22], [6.95, 22], [7.1, 21.72], [7.3, 21.7], [7.5, 21.9], [7.55, 22], [7.55, 22]]],
];

const toRows = (pts: Pt[]) => pts.map(([x, y]) => ({ x, y }));

const unitRows = unitLabels.map((label, i) => ({
  x: unitX[i],
  y: unitY[i],
  label,
  angle: unitAngle[i],
  dx: unitLabelDx[i],
  dy: unitLabelDy[i],
}));

const gridSegments: Pt[][] = [
  ...gridColumns.map((x) => [[x, 0], [x, x < 1 ? 11 : 22]]),
  ...gridRows.map((y) => [[y <= 11 ? -17 : 1, y], [22, y]]),
];
const maskEdges: Pt[][] = [[[-17, 11], [-17, 22]], [[-17, 22], [1, 22]]];

// closed Catmull-Rom through the projected points; a repeated point stays a corner
function smoothPath(points: { x: number; y: number }[]) {
  const n = points.length;
  let d = `M${points[0].x},${points[0].y}`;
  for (let i = 0; i < n; i++) {
    const p0 = points[(i - 1 + n) % n];
    const p1 = points[i];
    const p2 = points[(i + 1) % n];
    const p3 = points[(i + 2) % n];
    const same = (a: any, b: any) => a.x === b.x && a.y === b.y;
    if (same(p1, p2)) continue;
    const c1x = same(p0, p1) ? p1.x : p1.x + (p2.x - p0.x) / 6;
    const c1y = same(p0, p1) ? p1.y : p1.y + (p2.y - p0.y) / 6;
    const c2x = same(p2, p3) ? p2.x : p2.x - (p3.x - p1.x) / 6;
    const c2y = same(p2, p3) ? p2.y : p2.y - (p3.y - p1.y) / 6;
    d += `C${c1x},${c1y} ${c2x},${c2y} ${p2.x},${p2.y}`;
  }
  return d + 'Z';
}

const NoDot = () => null;

function UnitTag(props: any) {
  const { cx, cy, payload } = props;
  const centred = centredUnits.includes(payload.label);
  const small = smallUnits.includes(payload.label);
  const short = payload.label === '20' || payload.label === '15' || payload.label === '30';
  const length = short ? 26 : 32;
  const thick = small ? 15 : 17;
  const labelSize = small ? (centred ? 12.5 : 11.5) : 14;
  return (
    <g>
      <g transform={`translate(${cx},${cy}) rotate(${payload.angle})`}>
        {centred ? (
          <rect x={-length / 2} y={-thick / 2} width={length} height={thick} rx={thick / 2} fill="#fff" stroke="#111" strokeWidth={2.8} />
        ) : (
          <>
            <rect x={-7.5} y={-thick / 2} width={length} height={thick} rx={thick / 2} fill="#fff" stroke="#111" strokeWidth={2.8} />
            <line x1={3} y1={0} x2={length - 10} y2={0} stroke="#8a8a8a" strokeWidth={1} />
            <circle r={3.6} fill="#fff" stroke="#8a8a8a" strokeWidth={1} />
          </>
        )}
      </g>
      <text x={cx + payload.dx} y={cy + payload.dy + labelSize * 0.36} textAnchor="middle" fontSize={labelSize} fontFamily={FONT} fill="#222">
        {payload.label}
      </text>
    </g>
  );
}

function makeXTick(numberDy: number, nwDy: number) {
  return function XTick(props: any) {
    const { x, y, payload } = props;
    return (
      <g fontFamily={FONT} fill="#222">
        <text x={x} y={y + numberDy} textAnchor="middle" fontSize={14}>{payload.value}</text>
        {payload.value < 0 && <text x={x + 1} y={y + nwDy} textAnchor="middle" fontSize={15.5}>NW</text>}
      </g>
    );
  };
}

function ContourMap(props: { contours: Contour[]; colors: string[]; top: number; height: number; plot: { left: number; right: number; top: number; bottom: number }; clipId: string; numberDy: number; nwDy: number }) {
  const { contours, colors, top, height, plot, clipId, numberDy, nwDy } = props;
  const XTick = makeXTick(numberDy, nwDy);
  const x1 = plot.left + ((plot.right - plot.left) * 18) / 39;
  const ymid = (plot.top + plot.bottom) / 2;
  const clipPoints = `${x1},${plot.top} ${plot.right},${plot.top} ${plot.right},${plot.bottom} ${plot.left},${plot.bottom} ${plot.left},${ymid} ${x1},${ymid}`;
  const base: Pt[] = [[-17, 0], [-17, 0], [-17, 22], [-17, 22], [22, 22], [22, 22], [22, 0], [22, 0]];
  const fillLine = (level: number, outlined: boolean) => (lineProps: any) => (
    <path
      d={smoothPath(lineProps.points)}
      fill={colors[level]}
      stroke={outlined ? '#6e7274' : 'none'}
      strokeWidth={0.8}
      clipPath={`url(#${clipId})`}
    />
  );
  return (
    <div style={{ position: 'absolute', left: 0, top }}>
      <svg width={0} height={0} style={{ position: 'absolute' }}>
        <defs>
          <clipPath id={clipId}>
            <polygon points={clipPoints} />
          </clipPath>
        </defs>
      </svg>
      <ScatterChart
        width={1183}
        height={height}
        margin={{ top: plot.top, right: 1183 - plot.right, left: plot.left - 60, bottom: height - plot.bottom - 40 }}
      >
        <XAxis
          type="number"
          dataKey="x"
          domain={[-17, 22]}
          ticks={xTicks}
          interval={0}
          axisLine={false}
          tickLine={{ stroke: '#777' }}
          tickSize={13}
          tickMargin={0}
          height={40}
          allowDataOverflow
          tick={<XTick />}
        />
        <YAxis
          type="number"
          dataKey="y"
          domain={[0, 22]}
          ticks={yTicks}
          interval={0}
          axisLine={false}
          tickLine={{ stroke: '#777' }}
          tickSize={12}
          tickMargin={2}
          width={60}
          allowDataOverflow
          tick={{ fontSize: 14, fill: '#222', fontFamily: FONT }}
        />
        <Scatter data={toRows(base)} line={fillLine(1, false)} shape={NoDot} isAnimationActive={false} />
        {contours.map(([level, pts], i) => (
          <Scatter key={i} data={toRows(pts)} line={fillLine(level, true)} shape={NoDot} isAnimationActive={false} />
        ))}
        {gridSegments.map((seg, i) => (
          <Scatter key={`g${i}`} data={toRows(seg)} line={{ stroke: '#6f7375', strokeWidth: 1 }} shape={NoDot} isAnimationActive={false} />
        ))}
        {maskEdges.map((seg, i) => (
          <Scatter key={`m${i}`} data={toRows(seg)} line={{ stroke: '#9a9a9a', strokeWidth: 1 }} shape={NoDot} isAnimationActive={false} />
        ))}
        <Scatter data={unitRows} shape={UnitTag} isAnimationActive={false} />
      </ScatterChart>
    </div>
  );
}

function ColorBar(props: { colors: string[]; left: number; top: number; width: number; height: number }) {
  const { colors, left, top, width, height } = props;
  const levels = colors.map((_, i) => i);
  const row: Record<string, number | string> = { name: 'bands' };
  levels.forEach((l) => {
    row[`b${l}`] = 1;
  });
  return (
    <div style={{ position: 'absolute', left, top: top - 10 }}>
      <BarChart width={width + 40} height={height + 20} data={[row]} margin={{ top: 10, right: 0, bottom: 10, left: 0 }} barCategoryGap={0}>
        <XAxis dataKey="name" hide />
        <YAxis
          orientation="right"
          type="number"
          domain={[0, colors.length]}
          ticks={levels}
          interval={0}
          width={40}
          axisLine={false}
          tickLine={false}
          tickMargin={4}
          tick={{ fontSize: 14.5, fill: '#222', fontFamily: FONT, textAnchor: 'start', dx: -6 }}
        />
        {levels.map((l) => (
          <Bar key={l} dataKey={`b${l}`} stackId="bar" fill={colors[l]} stroke="#666" strokeWidth={0.5} isAnimationActive={false} />
        ))}
      </BarChart>
    </div>
  );
}

function ScaleBar(props: { left: number; top: number; segment: number; labelTop: number }) {
  const { left, top, segment, labelTop } = props;
  const fills = ['#000', '#fff', '#000', '#fff', '#000'];
  const label = (text: string, x: number) => (
    <div style={{ position: 'absolute', left: x - 20, width: 40, top: labelTop, textAlign: 'center', fontSize: 15, fontFamily: FONT, color: '#222' }}>{text}</div>
  );
  return (
    <>
      {fills.map((fill, i) => (
        <div key={i} style={{ position: 'absolute', left: left + i * segment, top, width: segment, height: 11, background: fill, borderTop: '1px solid #000', borderBottom: '1px solid #000', boxSizing: 'border-box' }} />
      ))}
      {label('0', left)}
      {label('ft', left + 2.55 * segment)}
      {label('25', left + 5.1 * segment)}
    </>
  );
}

function Title(props: { text: string; center: number; top: number; size: number }) {
  return (
    <div style={{ position: 'absolute', left: props.center - 500, width: 1000, top: props.top, textAlign: 'center', fontSize: props.size, lineHeight: '40px', fontFamily: FONT, color: '#111', whiteSpace: 'nowrap' }}>
      {props.text}
    </div>
  );
}

export default function App() {
  return (
    <div style={{ position: 'absolute', left: 0, top: 0, width: 1183, height: 1479, background: '#fff', overflow: 'hidden' }}>
      <div style={{ position: 'absolute', left: 9, top: 9, width: 1174, height: 1470, borderLeft: '6px solid #231f20', borderTop: '6px solid #231f20' }} />
      <Title text="McDonald Mc11 Shell-Tempered Pottery Distribution" center={573.5} top={38} size={33.3} />
      <ContourMap
        contours={shellContours}
        colors={shellColors}
        top={0}
        height={745}
        plot={{ left: 70, right: 1107, top: 85, bottom: 663 }}
        clipId="shell-clip"
        numberDy={14}
        nwDy={28.5}
      />
      <ColorBar colors={shellColors} left={1116} top={155} width={28} height={440} />
      <ScaleBar left={72} top={709} segment={26.4} labelTop={721} />
      <Title text="McDonald Mc11 Fineware Distribution" center={581} top={747} size={35.3} />
      <ContourMap
        contours={finewareContours}
        colors={finewareColors}
        top={720}
        height={759}
        plot={{ left: 79, right: 1113, top: 67, bottom: 650 }}
        clipId="fine-clip"
        numberDy={13}
        nwDy={27.5}
      />
      <ColorBar colors={finewareColors} left={1124} top={858} width={27} height={423} />
      <ScaleBar left={80} top={1419} segment={26.4} labelTop={1430} />
    </div>
  );
}
